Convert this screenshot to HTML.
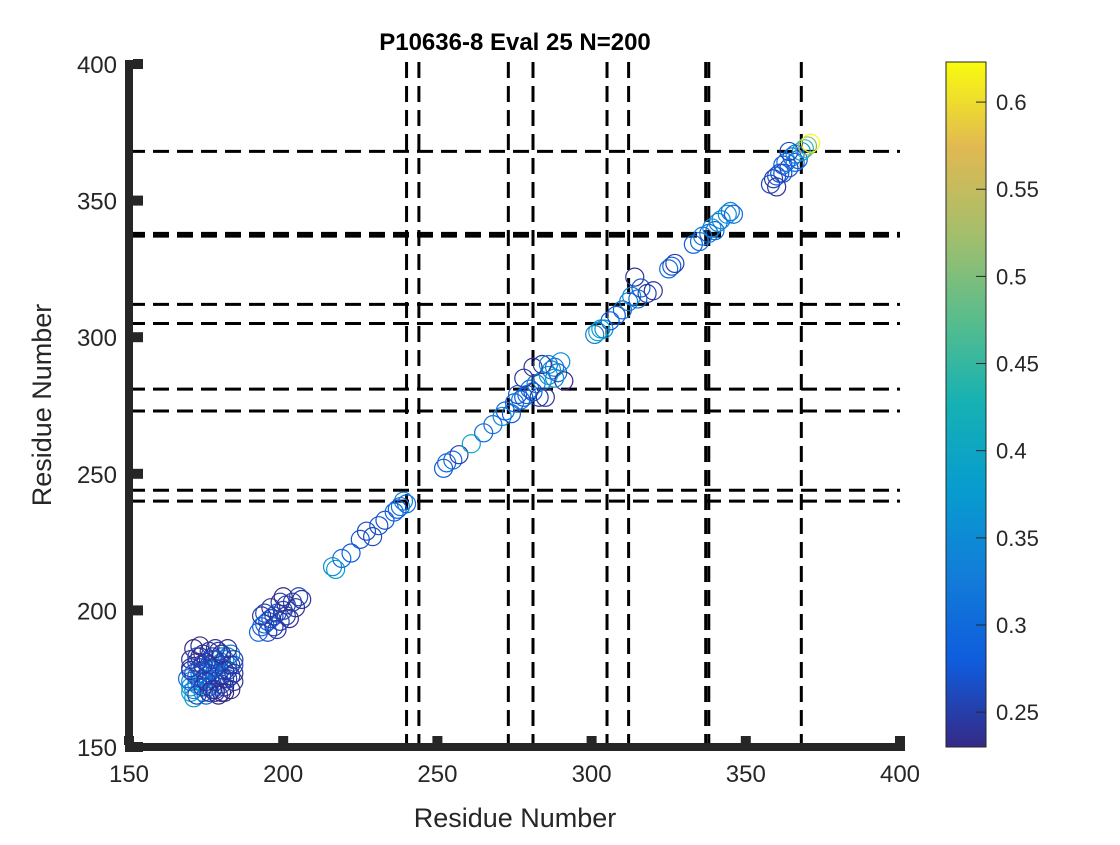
<!DOCTYPE html>
<html><head><meta charset="utf-8"><style>
body{margin:0;background:#fff;width:1120px;height:840px;overflow:hidden;font-family:"Liberation Sans",sans-serif}
svg text{font-family:"Liberation Sans",sans-serif}
</style></head><body>
<svg id="chart" width="1120" height="840" xmlns="http://www.w3.org/2000/svg">
<text x="515" y="50" font-size="24" font-weight="bold" text-anchor="middle">P10636-8 Eval 25 N=200</text>
<text x="515" y="827" font-size="27" text-anchor="middle" fill="#262626">Residue Number</text>
<text transform="translate(51,405) rotate(-90)" font-size="27" text-anchor="middle" fill="#262626">Residue Number</text>
<g id="grid"></g>
<g id="pts"></g>
<g id="axes"></g>
<g id="cbar"></g>
</svg>
<script>
const xTicks=[150,200,250,300,350,400];
const yTicks=[150,200,250,300,350,400];
const vLines=[240,244,273,281,305,312,337,338,368];
const hLines=[240,244,273,281,305,312,337,338,368];
const cbTicks=[0.25,0.3,0.35,0.4,0.45,0.5,0.55,0.6];
const cMin=0.23, cMax=0.623;
const ptX=[170,170,171,172,173,174,175,176,177,178,179,180,181,182,183,172,174,176,178,180,176,178,180,182,184,170,172,174,178,181,184,170,173,180,183,169,175,171,170,174,177,173,179,176,182,180,175,181,
171,173,175,177,179,181,183,172,174,176,178,180,182,184,171,173,175,177,179,181,183,170,172,174,176,178,180,182,184,177,
192,193,194,195,196,197,198,200,201,203,205,206,193,196,199,198,200,202,194,197,201,204,195,199,
216,217,219,222,225,227,229,231,233,236,238,240,239,237,
253,255,252,257,261,265,268,271,272,274,275,277,278,279,280,281,282,284,286,287,288,289,290,283,284,278,281,291,285,276,288,286,
301,302,303,304,306,308,310,312,313,315,316,314,318,320,
325,326,327,333,335,336,338,339,340,341,342,344,345,346,
358,359,360,361,362,363,364,365,366,367,368,369,370,371,360,364,362,366];
const ptY=[170,172,171,173,174,175,176,177,178,179,180,181,182,183,184,176,178,180,182,184,172,174,176,178,180,178,181,184,170,172,174,182,183,170,171,175,169,168,174,170,173,177,176,179,180,183,181,175,
177,179,181,183,185,178,176,169,172,170,171,173,175,177,186,187,174,171,169,170,180,179,183,180,185,186,184,186,182,182,
192,194,195,196,197,198,199,200,202,203,205,204,198,201,203,193,205,197,199,194,198,201,192,196,
216,215,219,221,226,229,227,231,233,236,238,239,240,237,
254,255,252,257,261,265,268,271,273,272,276,277,278,279,281,280,283,284,286,288,289,287,291,278,290,285,289,284,278,279,285,290,
301,302,303,303,306,308,310,313,315,314,318,322,316,317,
325,326,327,334,335,337,338,340,339,342,343,345,346,345,
356,358,359,360,363,364,362,366,367,365,368,369,370,371,355,368,360,364];
const ptC=[.4,.38,.35,.33,.3,.32,.3,.31,.3,.33,.35,.35,.37,.35,.33,.27,.26,.26,.26,.27,.27,.26,.27,.26,.27,.24,.24,.24,.24,.24,.24,.23,.23,.23,.23,.3,.3,.38,.33,.33,.3,.3,.3,.3,.3,.3,.25,.25,
.27,.26,.25,.26,.25,.24,.25,.26,.25,.24,.25,.26,.25,.24,.23,.23,.24,.24,.23,.23,.24,.25,.26,.25,.24,.24,.23,.24,.25,.26,
.3,.28,.3,.28,.27,.26,.27,.26,.25,.25,.26,.24,.24,.24,.24,.24,.23,.23,.26,.25,.25,.24,.26,.25,
.35,.38,.3,.28,.27,.26,.26,.27,.27,.3,.32,.3,.33,.28,
.3,.3,.28,.25,.4,.3,.3,.35,.3,.28,.3,.32,.28,.3,.3,.28,.33,.35,.38,.35,.32,.3,.35,.25,.24,.24,.24,.23,.24,.27,.36,.33,
.33,.4,.38,.35,.28,.27,.3,.33,.35,.3,.28,.24,.25,.24,
.3,.28,.25,.28,.3,.32,.3,.35,.3,.33,.35,.36,.33,.3,
.26,.25,.27,.27,.28,.3,.27,.3,.33,.28,.38,.45,.5,.62,.24,.26,.27,.3];

const NS='http://www.w3.org/2000/svg';
const X=v=>129+(v-150)*(900-129)/250;
const Y=v=>747-(v-150)*(747-64)/250;
const CY=v=>62+(cMax-v)/(cMax-cMin)*(747-62);
const stops=[[53,42,135],[15,92,221],[18,125,216],[7,156,207],[21,177,180],[89,189,140],[165,190,107],[225,185,82],[249,251,14]];
function parula(t){t=Math.max(0,Math.min(1,t))*8;const i=Math.min(7,Math.floor(t)),f=t-i;const a=stops[i],b=stops[i+1];
return 'rgb('+a.map((v,k)=>Math.round(v+(b[k]-v)*f)).join(',')+')';}
function mk(tag,attrs,parent){const e=document.createElementNS(NS,tag);for(const k in attrs)e.setAttribute(k,attrs[k]);parent.appendChild(e);return e;}
const grid=document.getElementById('grid');
vLines.forEach(v=>{const e=mk('line',{x1:X(v),x2:X(v),y1:62,y2:747,stroke:'#000','stroke-width':3,'stroke-dasharray':'16 8'},grid);

});
hLines.forEach(v=>{const e=mk('line',{x1:129,x2:900,y1:Y(v),y2:Y(v),stroke:'#000','stroke-width':3,'stroke-dasharray':'16 8'},grid);

});
const pts=document.getElementById('pts');
ptX.forEach((v,i)=>{const e=mk('circle',{cx:X(v),cy:Y(ptY[i]),r:9,fill:'none',stroke:parula((ptC[i]-cMin)/(cMax-cMin)),'stroke-width':1.2},pts);

});
const axes=document.getElementById('axes');
mk('rect',{x:125,y:60,width:8,height:692,fill:'#262626'},axes);
mk('rect',{x:125,y:743,width:780,height:8,fill:'#262626'},axes);
xTicks.forEach(v=>{const r=mk('rect',{x:X(v)-5,y:736,width:10,height:9,fill:'#262626'},axes);

const t=mk('text',{x:X(v),y:782,'font-size':24,'text-anchor':'middle',fill:'#262626'},axes);t.textContent=v;

});
yTicks.forEach(v=>{const r=mk('rect',{x:133,y:Y(v)-5,width:10,height:10,fill:'#262626'},axes);

const t=mk('text',{x:117,y:Y(v)+9,'font-size':24,'text-anchor':'end',fill:'#262626'},axes);t.textContent=v;

});
const cb=document.getElementById('cbar');
const defs=mk('defs',{},cb);const g=mk('linearGradient',{id:'pg',x1:0,y1:1,x2:0,y2:0},defs);
stops.forEach((s,i)=>mk('stop',{offset:i/8,'stop-color':'rgb('+s.join(',')+')'},g));
const cr=mk('rect',{x:946,y:62,width:40,height:685,fill:'url(#pg)',stroke:'#262626','stroke-width':1},cb);

cbTicks.forEach(v=>{mk('line',{x1:976,x2:986,y1:CY(v),y2:CY(v),stroke:'#262626'},cb);
const t=mk('text',{x:996,y:CY(v)+8,'font-size':22,fill:'#262626'},cb);t.textContent=v;

});
</script>
</body></html>
